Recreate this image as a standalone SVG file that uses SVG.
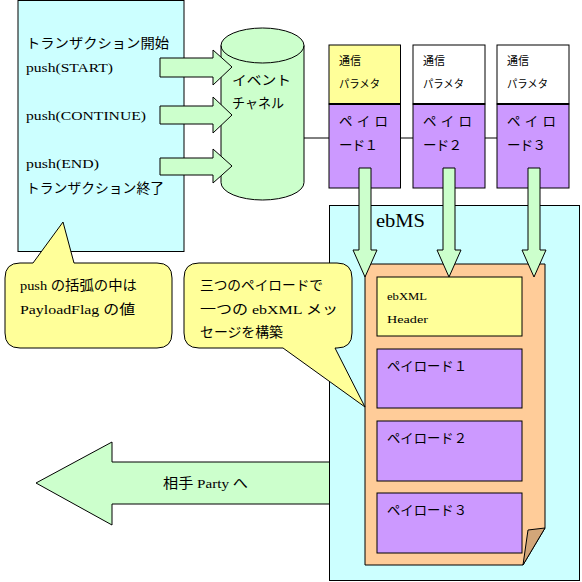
<svg xmlns="http://www.w3.org/2000/svg" width="582" height="582" viewBox="0 0 582 582">
<style>
.s{stroke:#000;stroke-width:1}
.t{font-family:"Liberation Serif","Noto Sans CJK JP",serif;font-size:13.5px;fill:#000;dominant-baseline:central}
.sm{font-size:11px}
.cy{fill:#CCFFFF}.gr{fill:#CCFFCC}.ye{fill:#FFFF99}.pu{fill:#CC99FF}.or{fill:#FFCC99}.wh{fill:#FFFFFF}
</style>
<rect width="582" height="582" fill="#fff"/>
<g id="client">
<rect class="s cy" x="18" y="0.5" width="166" height="251"/>
<text class="t" x="26" y="43" textLength="143" lengthAdjust="spacingAndGlyphs">トランザクション開始</text>
<text class="t" x="26" y="67" textLength="87" lengthAdjust="spacingAndGlyphs">push(START)</text>
<text class="t" x="26" y="115" textLength="120" lengthAdjust="spacingAndGlyphs">push(CONTINUE)</text>
<text class="t" x="26" y="163" textLength="73" lengthAdjust="spacingAndGlyphs">push(END)</text>
<text class="t" x="26" y="188" textLength="138" lengthAdjust="spacingAndGlyphs">トランザクション終了</text>
</g>
<g id="callout1">
<path class="s ye" d="M20,263 L33,263 L63,222 L74,263 L157,263 Q172,263 172,278 L172,333 Q172,348 157,348 L20,348 Q5,348 5,333 L5,278 Q5,263 20,263 Z"/>
<text class="t" x="20" y="285" textLength="117" lengthAdjust="spacingAndGlyphs">push の括弧の中は</text>
<text class="t" x="20" y="309" textLength="115" lengthAdjust="spacingAndGlyphs">PayloadFlag の値</text>
</g>
<g id="channel">
<path class="s gr" d="M221,45.5 L221,182.5 A41.5,17.5 0 0 0 304,182.5 L304,45.5 A41.5,17.5 0 0 0 221,45.5 Z"/>
<path class="s" fill="none" d="M221,45.5 A41.5,17.5 0 0 0 304,45.5"/>
<text class="t" x="232" y="80" textLength="59" lengthAdjust="spacingAndGlyphs">イベント</text>
<text class="t" x="232" y="103" textLength="52" lengthAdjust="spacingAndGlyphs">チャネル</text>
</g>
<g id="connectors">
<path class="s gr" d="M160,58 L213,58 L213,50 L232,67 L213,85 L213,77 L160,77 Z"/>
<path class="s gr" d="M160,106 L213,106 L213,97 L232,115 L213,133 L213,124 L160,124 Z"/>
<path class="s gr" d="M160,158 L213,158 L213,149 L232,166 L213,183 L213,175 L160,175 Z"/>
<path class="s" fill="none" d="M304,138 L329,138 M401,138 L413,138 M485,138 L497,138"/>
</g>
<g id="party-arrow">
<path class="s gr" d="M340,462 L112,462 L112,442 L36,483 L112,525 L112,504 L340,504"/>
<text class="t" x="163" y="483" textLength="85" lengthAdjust="spacingAndGlyphs">相手 Party へ</text>
</g>
<g id="ebms">
<rect class="s cy" x="329.5" y="205.5" width="250" height="375"/>
<text class="t" x="376" y="220" style="font-size:19px" textLength="49" lengthAdjust="spacingAndGlyphs">ebMS</text>
</g>
<g id="message">
<path class="s or" d="M365,276 L368,264 L545,264 L545,528 L523,565 L365,565 Z"/>
<path class="s" fill="#D2A679" d="M528,530 L545,528 L523,565 Z"/>
<rect class="s ye" x="377" y="277" width="145" height="59"/>
<text class="t sm" x="387" y="296" textLength="40" lengthAdjust="spacingAndGlyphs">ebXML</text>
<text class="t sm" x="387" y="319" textLength="41" lengthAdjust="spacingAndGlyphs">Header</text>
<rect class="s pu" x="377" y="349" width="145" height="59"/>
<text class="t" x="387" y="366" textLength="80" lengthAdjust="spacingAndGlyphs">ペイロード１</text>
<rect class="s pu" x="377" y="421" width="145" height="60"/>
<text class="t" x="387" y="438" textLength="80" lengthAdjust="spacingAndGlyphs">ペイロード２</text>
<rect class="s pu" x="377" y="493" width="145" height="60"/>
<text class="t" x="387" y="510" textLength="80" lengthAdjust="spacingAndGlyphs">ペイロード３</text>
</g>
<g id="payload1">
<rect class="s ye" x="329" y="45" width="71.5" height="59"/>
<rect class="s pu" x="329" y="104" width="71.5" height="84"/>
<line x1="329" y1="104" x2="400.5" y2="104" stroke="#000" stroke-width="2"/>
<text class="t sm" x="339" y="61">通信</text>
<text class="t sm" x="339" y="84" textLength="41" lengthAdjust="spacingAndGlyphs">パラメタ</text>
<text class="t" x="339" y="121" textLength="49">ペ イ ロ</text>
<text class="t" x="339" y="145" textLength="39">ード１</text>
</g>
<g id="payload2">
<rect class="s wh" x="413" y="45" width="72" height="59"/>
<rect class="s pu" x="413" y="104" width="72" height="84"/>
<line x1="413" y1="104" x2="485" y2="104" stroke="#000" stroke-width="2"/>
<text class="t sm" x="423" y="61">通信</text>
<text class="t sm" x="423" y="84" textLength="41" lengthAdjust="spacingAndGlyphs">パラメタ</text>
<text class="t" x="423" y="121" textLength="49">ペ イ ロ</text>
<text class="t" x="423" y="145" textLength="39">ード２</text>
</g>
<g id="payload3">
<rect class="s wh" x="497" y="45" width="72" height="59"/>
<rect class="s pu" x="497" y="104" width="72" height="84"/>
<line x1="497" y1="104" x2="569" y2="104" stroke="#000" stroke-width="2"/>
<text class="t sm" x="507" y="61">通信</text>
<text class="t sm" x="507" y="84" textLength="41" lengthAdjust="spacingAndGlyphs">パラメタ</text>
<text class="t" x="507" y="121" textLength="49">ペ イ ロ</text>
<text class="t" x="507" y="145" textLength="39">ード３</text>
</g>
<g id="down-arrows">
<path class="s gr" d="M359,168 L371,168 L371,250 L377,250 L365,277 L353,250 L359,250 Z"/>
<path class="s gr" d="M443,168 L455,168 L455,250 L461,250 L449,277 L437,250 L443,250 Z"/>
<path class="s gr" d="M528,168 L540,168 L540,250 L546,250 L534,277 L522,250 L528,250 Z"/>
</g>
<g id="callout2">
<path class="s ye" d="M199,263 L337,263 Q352,263 352,278 L352,333 Q352,348 337,348 L335,348 L365,407 L283,348 L199,348 Q184,348 184,333 L184,278 Q184,263 199,263 Z"/>
<text class="t" x="200" y="285" textLength="123" lengthAdjust="spacingAndGlyphs">三つのペイロードで</text>
<text class="t" x="200" y="309" textLength="138" lengthAdjust="spacingAndGlyphs">一つの ebXML メッ</text>
<text class="t" x="200" y="332" textLength="83" lengthAdjust="spacingAndGlyphs">セージを構築</text>
</g>
</svg>
